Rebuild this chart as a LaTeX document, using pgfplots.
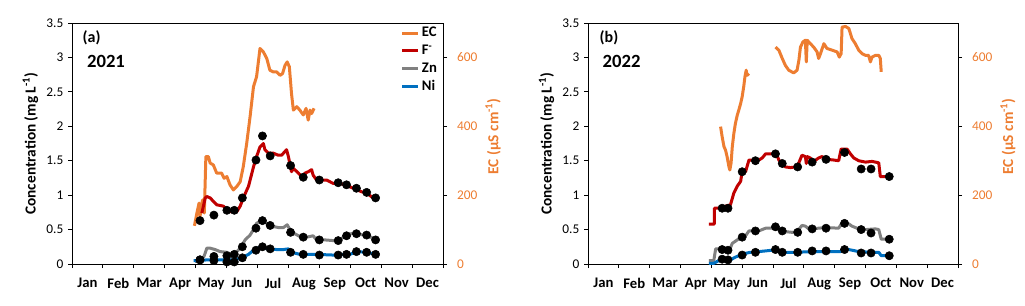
\documentclass[border=0pt]{standalone}
\usepackage{fontspec}
\setmainfont{Carlito}
\usepackage{pgfplots}
\pgfplotsset{compat=1.18}
\definecolor{ecc}{RGB}{237,125,49}
\definecolor{fcol}{RGB}{192,0,0}
\definecolor{zncol}{RGB}{128,128,128}
\definecolor{nicol}{RGB}{0,112,192}
\pgfplotsset{
  base/.style={
    scale only axis, height=180.75pt,
    xmin=0, xmax=12,
    /pgf/number format/assume math mode=true,
    tick align=outside, major tick length=3pt,
    every tick/.style={black, line width=0.75pt},
    axis line style={black, line width=0.75pt, -},
    clip=false,
  },
  conc/.style={base,
    ymin=0, ymax=3.5,
    ytick={0,0.5,...,3.5},
    xtick={0,...,12},
    xticklabels={Jan,Feb,Mar,Apr,May,Jun,Jul,Aug,Sep,Oct,Nov,Dec,},
    x tick label as interval,
    tick pos=left,
    yticklabel style={font=\fontsize{10}{12}\selectfont, black},
    xticklabel style={font=\bfseries\fontsize{11}{13}\selectfont, black, yshift=-4pt},
    ylabel={\textbf{Concentration (mg L\textsuperscript{-1})}},
    ylabel style={font=\fontsize{11.5}{13}\selectfont, at={(axis description cs:-0.112,0.5)}, anchor=center, rotate=0},
  },
  ecax/.style={base,
    ymin=0, ymax=700,
    axis x line=none, axis y line*=right,
    ytick={0,200,400,600},
    yticklabel style={font=\fontsize{10}{12}\selectfont, ecc, xshift=4pt},
    ylabel={\textbf{EC (µS cm\textsuperscript{-1})}},
    ylabel style={font=\fontsize{11.5}{13}\selectfont, ecc, at={(axis description cs:1.135,0.53)}, anchor=center, rotate=0},
  },
  ln/.style={line width=2.25pt, line join=round},
  dots/.style={only marks, mark=*, mark size=3.1pt, mark options={fill=black, draw=black}},
}
\begin{document}
\begin{tikzpicture}
\useasboundingbox (0,0) rectangle (768.75pt,228.75pt);
% ---------------- Panel (a) 2021 ----------------
\begin{axis}[ecax, width=278.25pt, at={(54pt,30.75pt)}, anchor=south west]
\addplot[ecc, ln] coordinates {
(3.96,111)(4.04,148)(4.11,177)(4.14,138)(4.22,186)(4.28,148)(4.33,312)(4.41,312)(4.47,293)(4.57,288)
(4.68,264)(4.84,264)(4.92,249)(5.01,254)(5.11,230)(5.22,215)(5.33,225)(5.44,239)(5.54,283)(5.65,350)
(5.76,428)(5.87,515)(5.97,544)(6.08,626)(6.19,616)(6.30,597)(6.40,563)(6.51,558)(6.62,558)(6.73,548)
(6.81,553)(6.89,577)(6.96,587)(7.03,573)(7.10,495)(7.16,447)(7.27,457)(7.37,447)(7.48,433)(7.57,452)
(7.64,418)(7.70,447)(7.75,437)(7.83,452)};
\end{axis}
\begin{axis}[conc, width=278.25pt, at={(54pt,30.75pt)}, anchor=south west,
  legend style={draw=none, fill=none, at={(rel axis cs:0.995,1.0)}, anchor=north east,
    font=\bfseries\fontsize{11}{13}\selectfont, row sep=0.6pt, inner sep=1pt},
  legend cell align=left,
  legend image code/.code={\draw[#1] (0pt,0pt) -- (11.5pt,0pt);}]
\addlegendimage{ecc, line width=2.25pt}\addlegendentry{EC}
\addlegendimage{fcol, line width=2.25pt}\addlegendentry{F\textsuperscript{-}}
\addlegendimage{zncol, line width=2.25pt}\addlegendentry{Zn}
\addlegendimage{nicol, line width=2.25pt}\addlegendentry{Ni}
\addplot[fcol, ln, forget plot] coordinates {
(4.20,0.74)(4.31,0.96)(4.36,0.98)(4.47,0.96)(4.57,0.91)(4.68,0.86)(4.90,0.84)(5.01,0.79)(5.11,0.76)(5.33,0.76)
(5.44,0.84)(5.54,0.96)(5.71,1.13)(5.87,1.41)(5.97,1.56)(6.08,1.70)(6.19,1.75)(6.24,1.66)(6.35,1.61)(6.51,1.61)
(6.67,1.58)(6.78,1.58)(6.94,1.66)(7.00,1.56)(7.10,1.34)(7.16,1.39)(7.32,1.32)(7.43,1.27)(7.54,1.32)(7.64,1.34)
(7.75,1.37)(7.80,1.29)(7.91,1.22)(8.23,1.22)(8.45,1.17)(8.67,1.17)(8.88,1.14)(9.10,1.10)(9.36,1.05)(9.53,1.03)
(9.74,0.96)};
\addplot[zncol, ln, forget plot] coordinates {
(3.98,0.04)(4.14,0.04)(4.27,0.11)(4.36,0.23)(4.47,0.23)(4.63,0.21)(4.79,0.18)(5.01,0.17)(5.11,0.15)(5.22,0.16)
(5.33,0.18)(5.44,0.23)(5.60,0.35)(5.76,0.42)(5.87,0.50)(5.97,0.59)(6.14,0.64)(6.30,0.59)(6.46,0.55)(6.67,0.53)
(6.84,0.53)(6.96,0.57)(7.05,0.50)(7.16,0.45)(7.37,0.40)(7.59,0.39)(7.80,0.41)(7.91,0.35)(8.18,0.35)(8.45,0.34)
(8.67,0.35)(8.83,0.41)(9.10,0.45)(9.31,0.43)(9.58,0.41)(9.83,0.35)};
\addplot[nicol, ln, forget plot] coordinates {
(3.93,0.05)(4.14,0.05)(4.36,0.06)(5.01,0.06)(5.22,0.06)(5.33,0.07)(5.49,0.09)(5.71,0.14)(5.87,0.20)(6.14,0.26)
(6.30,0.22)(6.62,0.21)(6.84,0.21)(7.00,0.22)(7.10,0.17)(7.37,0.14)(7.91,0.14)(8.45,0.13)(8.99,0.14)(9.20,0.18)
(9.53,0.17)(9.82,0.14)};
\addplot[dots, forget plot] coordinates {
(4.14,0.63)(4.59,0.71)(5.01,0.78)(5.25,0.78)(5.51,0.96)(5.95,1.51)(6.16,1.86)(6.41,1.57)(7.07,1.43)(7.48,1.26)
(8.00,1.22)(8.61,1.18)(8.88,1.15)(9.20,1.10)(9.53,1.04)(9.82,0.96)};
\addplot[dots, forget plot] coordinates {
(4.14,0.06)(4.59,0.11)(5.01,0.12)(5.25,0.14)(5.51,0.25)(5.95,0.52)(6.16,0.63)(6.41,0.56)(7.07,0.46)(7.48,0.39)
(8.00,0.35)(8.61,0.34)(8.88,0.41)(9.20,0.44)(9.53,0.42)(9.82,0.35)};
\addplot[dots, forget plot] coordinates {
(4.14,0.06)(4.59,0.05)(5.01,0.03)(5.25,0.03)(5.51,0.09)(5.95,0.20)(6.16,0.25)(6.41,0.22)(7.07,0.17)(7.48,0.14)
(8.00,0.13)(8.61,0.13)(8.88,0.14)(9.20,0.18)(9.53,0.17)(9.82,0.14)};
\node[anchor=west, font=\bfseries\fontsize{12}{14}\selectfont] at (rel axis cs:0.016,0.938) {(a)};
\node[anchor=west, font=\bfseries\fontsize{14}{16}\selectfont] at (rel axis cs:0.028,0.842) {2021};
\end{axis}
% ---------------- Panel (b) 2022 ----------------
\begin{axis}[ecax, width=277.5pt, at={(441pt,30.75pt)}, anchor=south west]
\addplot[ecc, ln] coordinates {
(4.30,399)(4.35,370)(4.41,341)(4.46,331)(4.51,312)(4.57,283)(4.60,273)(4.64,293)(4.68,341)(4.73,379)
(4.78,408)(4.84,432)(4.89,447)(4.95,466)(5.00,486)(5.05,515)(5.09,544)(5.13,563)(5.16,548)(5.22,553)};
\addplot[ecc, ln] coordinates {
(6.08,630)(6.19,621)(6.30,597)(6.40,577)(6.51,563)(6.67,555)(6.78,563)(6.84,592)(6.89,630)(6.97,645)
(7.05,650)(7.08,587)(7.11,650)(7.21,640)(7.32,630)(7.43,616)(7.48,597)(7.54,611)(7.65,640)(7.75,626)
(7.92,621)(8.08,616)(8.15,601)(8.21,611)(8.24,688)(8.35,690)(8.46,684)(8.56,655)(8.67,640)(8.78,621)
(8.89,611)(9.00,606)(9.10,606)(9.16,587)(9.21,601)(9.32,606)(9.43,606)(9.48,597)(9.51,558)};
\end{axis}
\begin{axis}[conc, width=277.5pt, at={(441pt,30.75pt)}, anchor=south west]
\addplot[fcol, ln] coordinates {
(3.92,0.58)(4.10,0.58)(4.10,0.81)(4.30,0.81)(4.46,0.84)(4.62,0.86)(4.73,1.03)(4.84,1.13)(4.95,1.20)(5.00,1.34)
(5.11,1.34)(5.22,1.51)(5.54,1.51)(5.65,1.54)(5.76,1.60)(5.97,1.60)(6.08,1.63)(6.19,1.51)(6.30,1.45)(6.40,1.41)
(6.57,1.40)(6.73,1.41)(6.81,1.44)(6.94,1.58)(7.05,1.56)(7.08,1.46)(7.11,1.56)(7.21,1.54)(7.32,1.49)(7.48,1.54)
(7.59,1.56)(7.75,1.52)(7.97,1.51)(8.13,1.50)(8.21,1.67)(8.40,1.67)(8.51,1.60)(8.62,1.54)(8.78,1.50)(9.00,1.48)
(9.21,1.49)(9.43,1.47)(9.48,1.27)(9.70,1.27)(9.86,1.29)};
\addplot[zncol, ln] coordinates {
(3.92,0.05)(4.08,0.05)(4.14,0.22)(4.46,0.22)(4.57,0.18)(4.68,0.30)(4.84,0.35)(5.00,0.40)(5.11,0.41)(5.22,0.48)
(5.54,0.48)(5.76,0.52)(5.97,0.52)(6.08,0.55)(6.19,0.50)(6.40,0.47)(6.62,0.46)(6.78,0.47)(6.94,0.56)(7.05,0.55)
(7.16,0.51)(7.48,0.52)(7.70,0.53)(8.13,0.52)(8.24,0.60)(8.40,0.60)(8.56,0.55)(8.78,0.51)(9.00,0.50)(9.32,0.51)
(9.43,0.50)(9.51,0.36)(9.81,0.36)};
\addplot[nicol, ln] coordinates {
(3.92,0.01)(4.08,0.01)(4.24,0.05)(4.46,0.06)(4.62,0.06)(4.78,0.10)(5.00,0.14)(5.16,0.16)(5.27,0.17)(5.54,0.18)
(5.97,0.20)(6.19,0.18)(6.40,0.17)(6.73,0.17)(7.27,0.18)(7.81,0.18)(8.19,0.18)(8.29,0.22)(8.46,0.21)(8.78,0.18)
(9.21,0.17)(9.43,0.17)(9.51,0.12)(9.81,0.12)};
\addplot[dots] coordinates {
(4.35,0.81)(4.54,0.81)(5.00,1.34)(5.43,1.50)(6.08,1.60)(6.30,1.46)(6.80,1.41)(7.27,1.48)(7.72,1.52)(8.32,1.62)
(8.86,1.38)(9.18,1.38)(9.77,1.27)};
\addplot[dots] coordinates {
(4.35,0.21)(4.54,0.20)(5.00,0.39)(5.43,0.48)(6.08,0.54)(6.30,0.48)(6.80,0.46)(7.27,0.51)(7.72,0.52)(8.32,0.59)
(8.86,0.50)(9.18,0.45)(9.77,0.36)};
\addplot[dots] coordinates {
(4.35,0.07)(4.54,0.06)(5.00,0.13)(5.43,0.17)(6.08,0.21)(6.30,0.17)(6.80,0.17)(7.27,0.19)(7.72,0.19)(8.32,0.21)
(8.86,0.16)(9.18,0.16)(9.77,0.12)};
\node[anchor=west, font=\bfseries\fontsize{12}{14}\selectfont] at (rel axis cs:0.019,0.938) {(b)};
\node[anchor=west, font=\bfseries\fontsize{14}{16}\selectfont] at (rel axis cs:0.027,0.842) {2022};
\end{axis}
\end{tikzpicture}
\end{document}
